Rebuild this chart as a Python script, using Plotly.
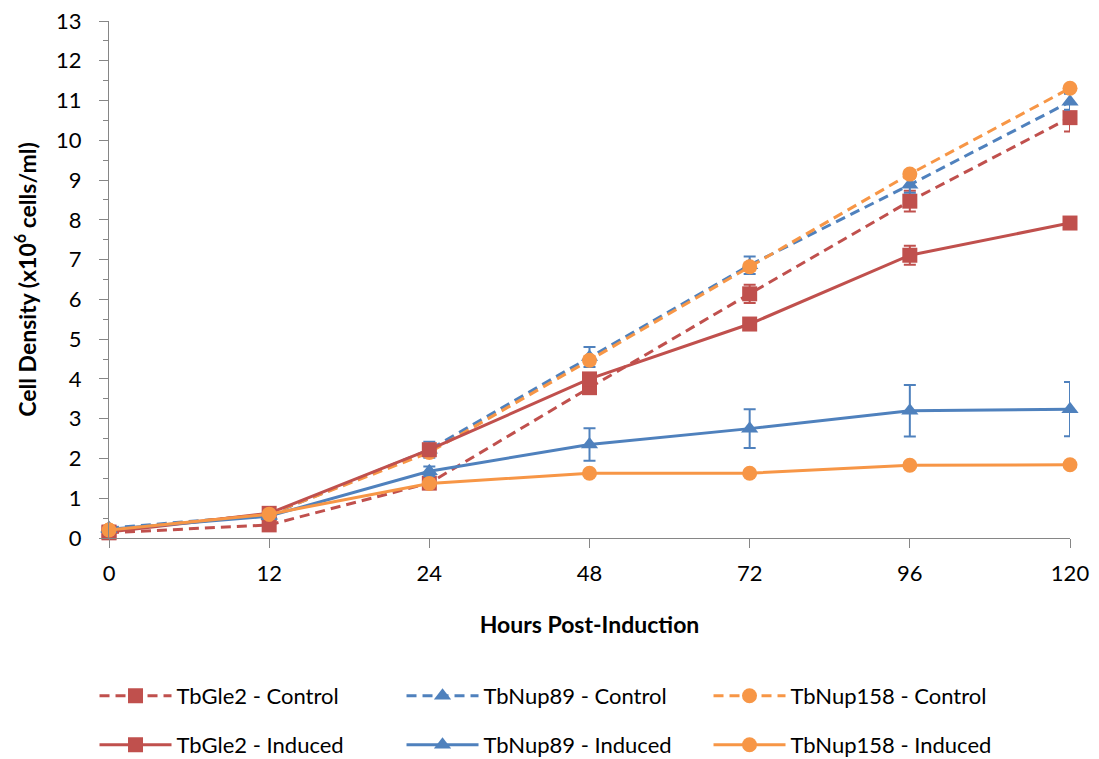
import plotly.graph_objects as go

# Sampling times (hours after induction), shown as evenly spaced categories
hours = ["0", "12", "24", "48", "72", "96", "120"]

# Mean cell densities (x10^6 cells/ml) and standard deviations
gle2_control = [0.13, 0.33, 1.38, 3.78, 6.14, 8.47, 10.57]
gle2_control_err = [0.03, 0.05, 0.08, 0.12, 0.23, 0.26, 0.35]
nup89_control = [0.25, 0.58, 2.22, 4.55, 6.86, 8.88, 10.97]
nup89_control_err = [0.03, 0.05, 0.2, 0.25, 0.22, 0.2, 0.2]
nup158_control = [0.2, 0.6, 2.15, 4.47, 6.82, 9.15, 11.31]
nup158_control_err = [0.02, 0.04, 0.08, 0.1, 0.1, 0.1, 0.08]

gle2_induced = [0.15, 0.62, 2.22, 4.0, 5.38, 7.11, 7.92]
gle2_induced_err = [0.03, 0.05, 0.1, 0.12, 0.1, 0.24, 0.12]
nup89_induced = [0.22, 0.55, 1.68, 2.35, 2.75, 3.2, 3.24]
nup89_induced_err = [0.03, 0.05, 0.12, 0.41, 0.49, 0.65, 0.68]
nup158_induced = [0.2, 0.6, 1.37, 1.63, 1.63, 1.83, 1.84]
nup158_induced_err = [0.02, 0.03, 0.05, 0.06, 0.06, 0.06, 0.06]

RED = "#C0504D"
BLUE = "#4F81BD"
ORANGE = "#F79646"
FONT = "Lato"

x_pos = list(range(len(hours)))

series = [
    ("TbGle2 - Control", gle2_control, gle2_control_err, RED, "square", "10px,6px", "legend"),
    ("TbNup89 - Control", nup89_control, nup89_control_err, BLUE, "triangle-up", "10px,6px", "legend"),
    ("TbNup158 - Control", nup158_control, nup158_control_err, ORANGE, "circle", "10px,6px", "legend"),
    ("TbGle2 - Induced", gle2_induced, gle2_induced_err, RED, "square", "solid", "legend2"),
    ("TbNup89 - Induced", nup89_induced, nup89_induced_err, BLUE, "triangle-up", "solid", "legend2"),
    ("TbNup158 - Induced", nup158_induced, nup158_induced_err, ORANGE, "circle", "solid", "legend2"),
]

fig = go.Figure()
for name, vals, errs, color, symbol, dash, leg in series:
    fig.add_trace(go.Scatter(
        x=x_pos, y=vals, name=name, mode="lines+markers",
        line=dict(color=color, width=3, dash=dash),
        marker=dict(symbol=symbol, size=15, color=color),
        error_y=dict(type="data", array=errs, visible=True,
                     color=color, thickness=2, width=6),
        cliponaxis=False, legend=leg,
    ))

axis_color = "#868686"
# Two single-row legends (controls above, induced below), placed in page coordinates
legend_style = dict(orientation="h", xref="container", x=0.086, xanchor="left",
                    yref="container", yanchor="middle",
                    itemwidth=72, entrywidth=220, font=dict(size=22),
                    bgcolor="rgba(0,0,0,0)")

fig.update_layout(
    width=1099, height=759,
    margin=dict(l=109, r=29, t=21, b=221),
    paper_bgcolor="white", plot_bgcolor="white",
    font=dict(family=FONT, size=22, color="#000000"),
    xaxis=dict(
        range=[0, 6], tickmode="array", tickvals=x_pos, ticktext=hours,
        showgrid=False, zeroline=False, showline=True, linecolor=axis_color,
        linewidth=1, ticks="outside", ticklen=9, tickcolor=axis_color,
        ticklabelstandoff=7, automargin=False,
        title=dict(text="<b>Hours Post-Induction</b>", standoff=31,
                   font=dict(size=23)),
    ),
    yaxis=dict(
        range=[0, 13], dtick=1, showgrid=False, zeroline=False,
        showline=True, linecolor=axis_color, linewidth=1,
        ticks="outside", ticklen=9, tickcolor=axis_color,
        ticklabelstandoff=13, automargin=False,
        minor=dict(dtick=0.5, ticks="outside", ticklen=5, tickcolor=axis_color,
                   showgrid=False),
        title=dict(text="<b>Cell Density (x10<sup>6</sup> cells/ml)</b>",
                   standoff=13, font=dict(size=23)),
    ),
    legend=dict(legend_style, y=1 - 696 / 759),
    legend2=dict(legend_style, y=1 - 745 / 759),
)

fig.write_html("out.html")
